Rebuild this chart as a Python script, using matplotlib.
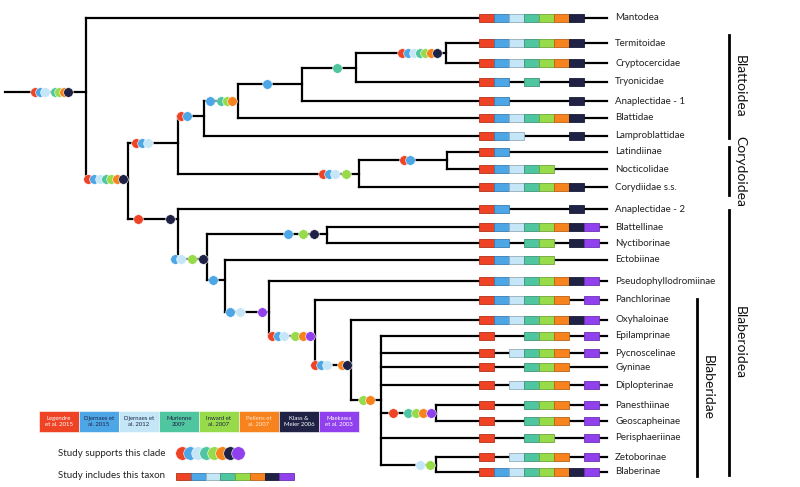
import matplotlib
matplotlib.use("Agg")
import matplotlib.pyplot as plt
from matplotlib.patches import Rectangle
from matplotlib.colors import to_rgb

plt.rcParams['font.family'] = ['Lato', 'DejaVu Sans']

# studies (order = colour order used in boxes and dots)
studies = ["Legendre\net al. 2015", "Djernaes et\nal. 2015", "Djernaes et\nal. 2012",
           "Murienne\n2009", "Inward et\nal. 2007", "Pellens et\nal. 2007",
           "Klass &\nMeier 2006", "Maekawa\net al. 2003"]
study_colors = ["#EE4325", "#4DA6E6", "#C4E6F7", "#4FC6A0",
                "#98DB4A", "#F7831F", "#1F2244", "#9140EE"]
study_text = ["white", "#1F2244", "#1F2244", "#1F2244",
              "#1F2244", "#FFE6CC", "white", "white"]

# taxa (top to bottom), their row position and which studies include them
taxa = ["Mantodea", "Termitoidae", "Cryptocercidae", "Tryonicidae", "Anaplectidae - 1",
        "Blattidae", "Lamproblattidae", "Latindiinae", "Nocticolidae", "Corydiidae s.s.",
        "Anaplectidae - 2", "Blattellinae", "Nyctiborinae", "Ectobiinae",
        "Pseudophyllodromiinae", "Panchlorinae", "Oxyhaloinae", "Epilamprinae",
        "Pycnoscelinae", "Gyninae", "Diplopterinae", "Panesthiinae", "Geoscapheinae",
        "Perisphaeriinae", "Zetoborinae", "Blaberinae"]
taxa_y = [18, 43, 63, 82, 101, 118, 136, 152, 169, 187, 209, 227, 243, 260,
          281, 300, 320, 336, 353, 367, 385, 405, 421, 438, 457, 472]
included = ["11111110", "11111110", "11111110", "11010010", "11000010",
            "11111110", "11100010", "11000000", "11111000", "11111110",
            "11000010", "11111111", "11011011", "11111000", "11111111",
            "11111101", "11111111", "10011101", "10111101", "10011100",
            "10111101", "10011101", "10011101", "10011001", "10111101",
            "11111111"]

# internal nodes: name -> (node x, node y, stem start x, children, supporting dots)
# dots: (first x, last x, studies supporting the clade)
nodes = {
    "root":        (86, 92, 5, ["Mantodea", "Blattodea"],
                    [(35, 45, [0, 1, 2]), (55, 68, [3, 4, 5, 6])]),
    "Blattodea":   (128, 179, 86, ["BC", "Blaberoidea"], [(88, 123, [0, 1, 2, 3, 4, 5, 6])]),
    "BC":          (178, 143, 128, ["Blattoidea", "Corydoidea"], [(136, 148, [0, 1, 2])]),
    "Blattoidea":  (204, 116, 178, ["n98", "Lamproblattidae"], [(181, 187, [0, 1])]),
    "n98":         (238, 101, 204, ["n84", "Blattidae"], [(210, 210, [1]), (221, 232, [3, 4, 5])]),
    "n84":         (302, 84, 238, ["n68", "Anaplectidae - 1"], [(267, 267, [1])]),
    "n68":         (356, 68, 302, ["n53", "Tryonicidae"], [(337, 337, [3])]),
    "n53":         (446, 53, 356, ["Termitoidae", "Cryptocercidae"],
                    [(402, 437, [0, 1, 2, 3, 4, 5, 6])]),
    "Corydoidea":  (359, 174, 178, ["n160", "Corydiidae s.s."],
                    [(323, 335, [0, 1, 2]), (346, 346, [4])]),
    "n160":        (447, 160, 359, ["Latindiinae", "Nocticolidae"], [(404, 410, [0, 1])]),
    "Blaberoidea": (178, 219, 128, ["Anaplectidae - 2", "n259"],
                    [(138, 138, [0]), (170, 170, [6])]),
    "n259":        (207, 259, 178, ["n234", "n280"], [(175, 181, [1, 2]), (192, 203, [4, 6])]),
    "n234":        (327, 234, 207, ["Blattellinae", "Nyctiborinae"],
                    [(288, 288, [1]), (303, 314, [4, 6])]),
    "n280":        (225, 280, 207, ["Ectobiinae", "n312"], [(213, 213, [1])]),
    "n312":        (269, 312, 225, ["Pseudophyllodromiinae", "Blaberidae"],
                    [(230, 240, [1, 2]), (262, 262, [7])]),
    "Blaberidae":  (315, 336, 269, ["Panchlorinae", "n365"],
                    [(272, 284, [0, 1, 2]), (295, 310, [4, 5, 7])]),
    "n365":        (351, 365, 315, ["Oxyhaloinae", "n400"],
                    [(315, 327, [0, 1, 2]), (342, 347, [5, 6])]),
    "n400":        (381, 400, 351, ["Epilamprinae", "Pycnoscelinae", "Gyninae", "Diplopterinae",
                                    "n413", "Perisphaeriinae", "n465"], [(363, 370, [4, 5])]),
    "n413":        (436, 413, 381, ["Panesthiinae", "Geoscapheinae"],
                    [(393, 393, [0]), (408, 431, [3, 4, 5, 7])]),
    "n465":        (436, 465, 381, ["Zetoborinae", "Blaberinae"], [(420, 430, [2, 4])]),
}

# bracket labels: (text, x, y top, y bottom)
brackets = [("Blattoidea", 729, 35, 138), ("Corydoidea", 729, 147, 195),
            ("Blaberoidea", 729, 210, 475), ("Blaberidae", 697, 299, 476)]

LEAF_END = 607
BOX_X0, BOX_W, BOX_H = 479, 15, 8


def darker(c, f=0.75):
    r, g, b = to_rgb(c)
    return (r * f, g * f, b * f)


fig = plt.figure(figsize=(8, 4.87), dpi=100)
ax = fig.add_axes([0, 0, 1, 1])
ax.set_xlim(0, 800)
ax.set_ylim(487, 0)
ax.axis("off")

leaf_y = dict(zip(taxa, taxa_y))
line_kw = dict(color="black", lw=1.6, solid_capstyle="projecting", zorder=1)


def node_y(name):
    return leaf_y[name] if name in leaf_y else nodes[name][1]


for name, (nx, ny, sx, children, dots) in nodes.items():
    ax.plot([sx, nx], [ny, ny], **line_kw)
    ys = [node_y(c) for c in children]
    ax.plot([nx, nx], [min(ys), max(ys)], **line_kw)
    for c in children:
        if c in leaf_y:
            ax.plot([nx, LEAF_END], [leaf_y[c], leaf_y[c]], **line_kw)
    # support dots
    z = 5
    for x0, x1, sts in dots:
        n = len(sts)
        for k, s in enumerate(sts):
            x = x0 if n == 1 else x0 + (x1 - x0) * k / (n - 1)
            ax.scatter(x, ny, s=48, color=study_colors[s], edgecolor="white",
                       linewidth=0.4, zorder=z)
            z += 1

# taxon boxes and labels
for t, y, inc in zip(taxa, taxa_y, included):
    for i, flag in enumerate(inc):
        if flag == "1":
            ax.add_patch(Rectangle((BOX_X0 + i * BOX_W, y - BOX_H / 2), BOX_W, BOX_H,
                                   facecolor=study_colors[i], edgecolor=darker(study_colors[i]),
                                   lw=0.6, zorder=3))
    ax.text(615, y, t, fontsize=7, va="center", ha="left", color="#222222")

# brackets
for label, bx, y0, y1 in brackets:
    ax.plot([bx, bx], [y0, y1], color="black", lw=2.0)
    ax.text(bx + 11, (y0 + y1) / 2, label, rotation=-90, fontsize=10,
            va="center", ha="center", color="#111111")

# legend: study colour bar
for i, (lab, c, tc) in enumerate(zip(studies, study_colors, study_text)):
    ax.add_patch(Rectangle((39 + i * 40, 411), 40, 21, facecolor=c,
                           edgecolor="white", lw=0.4))
    ax.text(59 + i * 40, 421.5, lab, fontsize=4.3, color=tc, ha="center",
            va="center", linespacing=1.3)

ax.text(58, 453, "Study supports this clade", fontsize=7, va="center", color="#222222")
for i, c in enumerate(study_colors):
    ax.scatter(182 + i * 8, 453, s=95, color=c, edgecolor="white", linewidth=0.4,
               zorder=5 + i)

ax.text(58, 476, "Study includes this taxon", fontsize=7, va="center", color="#222222")
for i, c in enumerate(study_colors):
    ax.add_patch(Rectangle((176 + i * 14.75, 473), 14.75, 7, facecolor=c,
                           edgecolor=darker(c), lw=0.6))

fig.savefig("out.png", dpi=100)
